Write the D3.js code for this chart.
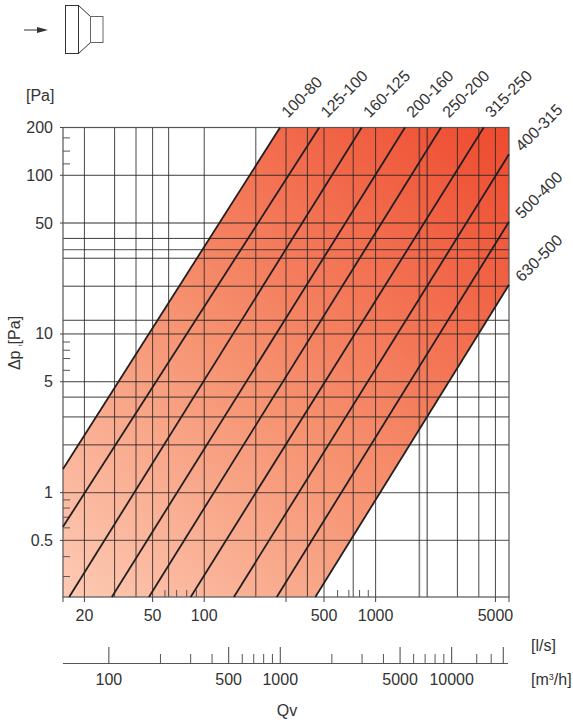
<!DOCTYPE html>
<html>
<head>
<meta charset="utf-8">
<script src="https://cdn.jsdelivr.net/npm/d3@7"></script>
<style>
  html, body { margin: 0; padding: 0; background: #fff; }
  svg { display: block; }
  text { font-family: "Liberation Sans", Arial, sans-serif; font-size: 16px; fill: #333; }
</style>
</head>
<body>
<div id="chart"></div>
<script>
// reducer sizes, one per diagonal line
var sizes = ['100-80', '125-100', '160-125', '200-160', '250-200', '315-250', '400-315', '500-400', '630-500'];
// where each line enters and leaves the plot
var startQv = [15, 15, 16.3, 28.9, 47.6, 83.4, 149, 265, 445];
var startDp = [1.41, 0.61, 0.22, 0.22, 0.22, 0.22, 0.22, 0.22, 0.22];
var endQv = [277, 469, 829, 1484, 2406, 4270, 6000, 6000, 6000];
var endDp = [200, 200, 200, 200, 200, 200, 135.5, 51, 20.4];

// grid
var gridQv = [20, 30, 40, 50, 62, 100, 200, 300, 400, 500, 740, 1000, 1800, 2000, 3000, 4000, 5000];
var softQv = [1800, 2000];
var gridDp = [100, 50, 40, 34, 30, 20, 12.2, 10, 5, 4, 3, 2, 1, 0.5];
var softDp = [50, 34, 1, 0.5];

// ticks
var dpLabels = [200, 100, 50, 10, 5, 1, 0.5];
var dpMinor = [172, 142, 118, 8.9, 7.9, 7, 5.9, 0.9, 0.8, 0.7, 0.6, 0.395, 0.296];
var qvLabels = [20, 50, 100, 500, 1000, 5000];
var qvTicksBelow = [15, 20, 50, 100, 300, 500, 1000, 5000, 6000];
var qvMinor = [59, 69, 79, 90, 600, 698, 806, 906];
var m3hLabels = [100, 500, 1000, 5000, 10000];
var m3hMajor = [100, 500, 1000, 5000, 10000, 20000];
var m3hMinor = [200, 300, 400, 600, 700, 800, 900, 2000, 3000, 4000, 6000, 7000, 8000, 9000, 14000, 17000];

var width = 573, height = 724;
var left = 63, right = 509, top_ = 127.5, bottom = 597;

var x = d3.scaleLog().domain([15, 6000]).range([left, right]);
var y = d3.scaleLog().domain([0.22, 200]).range([bottom, top_]);
var x2 = d3.scaleLog().domain([54, 21600]).range([left, right]);

var svg = d3.select('#chart').append('svg')
  .attr('width', width).attr('height', height);

// band fill
var grad = svg.append('defs').append('linearGradient')
  .attr('id', 'band')
  .attr('gradientUnits', 'userSpaceOnUse')
  .attr('x1', left).attr('y1', bottom)
  .attr('x2', right).attr('y2', top_);
grad.append('stop').attr('offset', 0).attr('stop-color', '#fdcab4');
grad.append('stop').attr('offset', 0.45).attr('stop-color', '#f6916f');
grad.append('stop').attr('offset', 1).attr('stop-color', '#ee4a2e');

var last = sizes.length - 1;
var bandPts = [
  [startQv[0], startDp[0]],
  [endQv[0], endDp[0]],
  [6000, 200],
  [endQv[last], endDp[last]],
  [startQv[last], startDp[last]],
  [15, 0.22]
];
svg.append('path')
  .attr('d', d3.line().x(function (d) { return x(d[0]); }).y(function (d) { return y(d[1]); })(bandPts) + 'Z')
  .attr('fill', 'url(#band)');

// grid lines
svg.append('g').selectAll('line')
  .data(gridQv)
  .enter().append('line')
  .attr('x1', function (d) { return x(d); })
  .attr('x2', function (d) { return x(d); })
  .attr('y1', top_).attr('y2', bottom)
  .attr('stroke', '#2b2726')
  .attr('stroke-opacity', function (d) { return softQv.indexOf(d) >= 0 ? 0.6 : 0.85; })
  .attr('stroke-width', function (d) { return softQv.indexOf(d) >= 0 ? 1.6 : 1; });

svg.append('g').selectAll('line')
  .data(gridDp)
  .enter().append('line')
  .attr('x1', left).attr('x2', right)
  .attr('y1', function (d) { return y(d); })
  .attr('y2', function (d) { return y(d); })
  .attr('stroke', '#2b2726')
  .attr('stroke-opacity', function (d) { return softDp.indexOf(d) >= 0 ? 0.65 : 0.9; })
  .attr('stroke-width', function (d) { return softDp.indexOf(d) >= 0 ? 1.4 : 1; });

// frame
svg.append('rect')
  .attr('x', left).attr('y', top_)
  .attr('width', right - left).attr('height', bottom - top_)
  .attr('fill', 'none').attr('stroke', '#555').attr('stroke-width', 1.2);

// short inside ticks
svg.append('g').selectAll('line')
  .data(dpMinor)
  .enter().append('line')
  .attr('x1', left).attr('x2', left + 7)
  .attr('y1', function (d) { return y(d); })
  .attr('y2', function (d) { return y(d); })
  .attr('stroke', '#555');

svg.append('g').selectAll('line')
  .data(qvMinor)
  .enter().append('line')
  .attr('x1', function (d) { return x(d); })
  .attr('x2', function (d) { return x(d); })
  .attr('y1', bottom - 7).attr('y2', bottom)
  .attr('stroke', '#555');

// outside ticks
svg.append('g').selectAll('line')
  .data(dpLabels)
  .enter().append('line')
  .attr('x1', left - 3).attr('x2', left)
  .attr('y1', function (d) { return y(d); })
  .attr('y2', function (d) { return y(d); })
  .attr('stroke', '#444');

svg.append('g').selectAll('line')
  .data(qvTicksBelow)
  .enter().append('line')
  .attr('x1', function (d) { return x(d); })
  .attr('x2', function (d) { return x(d); })
  .attr('y1', bottom).attr('y2', bottom + 5)
  .attr('stroke', '#444');

// diagonal lines
svg.append('g').selectAll('line')
  .data(sizes)
  .enter().append('line')
  .attr('x1', function (d, i) { return x(startQv[i]); })
  .attr('y1', function (d, i) { return y(startDp[i]); })
  .attr('x2', function (d, i) { return x(endQv[i]); })
  .attr('y2', function (d, i) { return y(endDp[i]); })
  .attr('stroke', '#231f20')
  .attr('stroke-width', 1.8);

// size labels, following the end of each line
svg.append('g').selectAll('text')
  .data(sizes)
  .enter().append('text')
  .attr('transform', function (d, i) {
    var px = x(endQv[i]), py = y(endDp[i]);
    if (endQv[i] < 6000) { px += 8; py -= 9; } else { px += 13; py -= 2; }
    return 'translate(' + px + ',' + py + ') rotate(-45)';
  })
  .text(function (d) { return d; });

// axis labels
svg.append('g').selectAll('text')
  .data(dpLabels)
  .enter().append('text')
  .attr('x', 53)
  .attr('y', function (d) { return y(d) + 5.5; })
  .attr('text-anchor', 'end')
  .text(function (d) { return d; });

svg.append('g').selectAll('text')
  .data(qvLabels)
  .enter().append('text')
  .attr('x', function (d) { return x(d); })
  .attr('y', 621)
  .attr('text-anchor', 'middle')
  .text(function (d) { return d; });

// second flow axis in m3/h
svg.append('line')
  .attr('x1', left).attr('x2', right - 1)
  .attr('y1', 663.5).attr('y2', 663.5)
  .attr('stroke', '#555').attr('stroke-width', 1.2);

svg.append('g').selectAll('line')
  .data(m3hMajor)
  .enter().append('line')
  .attr('x1', function (d) { return x2(d); })
  .attr('x2', function (d) { return x2(d); })
  .attr('y1', 647).attr('y2', 663.5)
  .attr('stroke', '#444');

svg.append('g').selectAll('line')
  .data(m3hMinor)
  .enter().append('line')
  .attr('x1', function (d) { return x2(d); })
  .attr('x2', function (d) { return x2(d); })
  .attr('y1', 654).attr('y2', 663.5)
  .attr('stroke', '#555');

svg.append('g').selectAll('text')
  .data(m3hLabels)
  .enter().append('text')
  .attr('x', function (d) { return x2(d); })
  .attr('y', 685)
  .attr('text-anchor', 'middle')
  .text(function (d) { return d; });

// units and titles
svg.append('text').attr('x', 26).attr('y', 101).text('[Pa]');
svg.append('text').attr('x', 531).attr('y', 651).text('[l/s]');
var m3 = svg.append('text').attr('x', 531).attr('y', 685);
m3.append('tspan').text('[m');
m3.append('tspan').attr('dy', -5).style('font-size', '9px').text('3');
m3.append('tspan').attr('dy', 5).text('/h]');
svg.append('text').attr('x', 287).attr('y', 716).attr('text-anchor', 'middle').text('Qv');

var dpTitle = svg.append('text')
  .attr('transform', 'translate(20,343) rotate(-90)')
  .attr('text-anchor', 'middle');
dpTitle.append('tspan').text('Δp ');
dpTitle.append('tspan').attr('dy', 2).style('font-size', '6px').text('t');
dpTitle.append('tspan').attr('dy', -2).text('[Pa]');

// reducer icon and flow arrow
var icon = svg.append('g').attr('fill', 'none').attr('stroke', '#333').attr('stroke-width', 1);
icon.append('path').attr('d', 'M24,30H40');
icon.append('path').attr('d', 'M37,27L48,30L37,33Z').attr('fill', '#333').attr('stroke', 'none');
icon.append('rect').attr('x', 65.5).attr('y', 5.5).attr('width', 13).attr('height', 48);
icon.append('path').attr('d', 'M78.5,5.5L90.5,16.5M78.5,53.5L90.5,42.5');
icon.append('rect').attr('x', 90.5).attr('y', 16.5).attr('width', 12.5).attr('height', 26).attr('stroke', '#666');
</script>
</body>
</html>
